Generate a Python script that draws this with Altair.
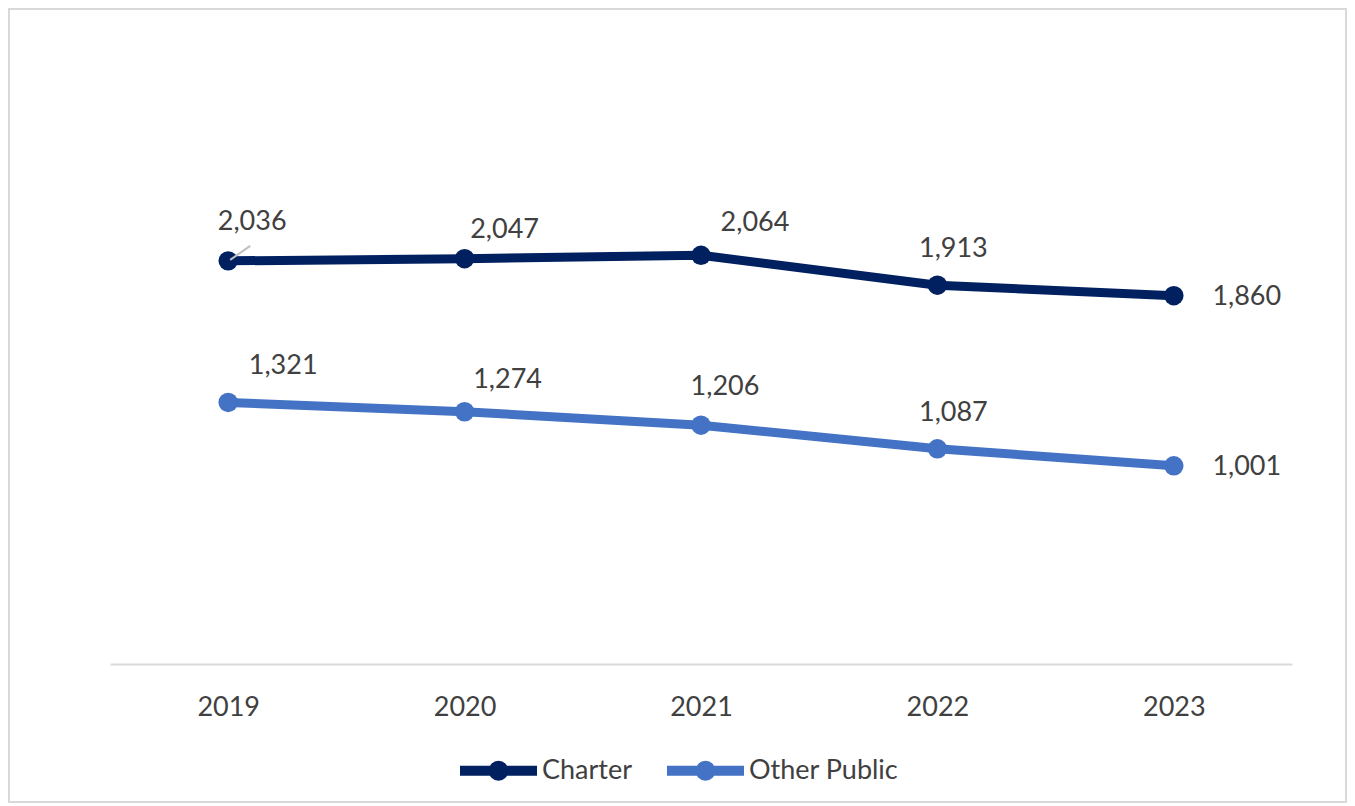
import altair as alt
import pandas as pd

years = ["2019", "2020", "2021", "2022", "2023"]
charter = [2036, 2047, 2064, 1913, 1860]
other_public = [1321, 1274, 1206, 1087, 1001]
series_names = ["Charter", "Other Public"]
series_colors = ["#002060", "#4472C4"]

rows = []
for y, v in zip(years, charter):
    rows.append({"year": y, "value": v, "series": "Charter"})
for y, v in zip(years, other_public):
    rows.append({"year": y, "value": v, "series": "Other Public"})
df = pd.DataFrame(rows)

W, H = 1182, 495
FONT = "Lato"
TXT = "#404040"

x_enc = alt.X("year:O", scale=alt.Scale(type="point", padding=0.5),
              axis=alt.Axis(title=None, labelAngle=0, labelFontSize=27, labelFont=FONT,
                            labelColor=TXT, domainColor="#d9d9d9", domainWidth=2,
                            ticks=False, grid=False, labelPadding=30))
y_enc = alt.Y("value:Q", scale=alt.Scale(domain=[0, 2500], nice=False), axis=None)

legend_path = "M-1,0L1,0M0.13,0A0.13,0.13 0 1,1 -0.13,0A0.13,0.13 0 1,1 0.13,0Z"

lines = alt.Chart(df).mark_line(
    strokeWidth=9, strokeCap="round", strokeJoin="round",
    point=alt.OverlayMarkDef(filled=True, size=380, opacity=1)
).encode(
    x=x_enc, y=y_enc,
    color=alt.Color("series:N",
                    scale=alt.Scale(domain=series_names, range=series_colors),
                    legend=alt.Legend(title=None, orient="none", direction="horizontal",
                                      legendX=345, legendY=558, padding=0,
                                      symbolType=legend_path, symbolSize=5929,
                                      symbolStrokeWidth=10, symbolOffset=0,
                                      labelFont=FONT, labelFontSize=27, labelColor=TXT,
                                      labelOffset=0, columnPadding=14,
                                      labelLimit=400))
)

# label offsets (dx, dy) per series and year
offsets = {
    "Charter": [(24, -39), (40, -29), (54, -32), (16, -36), (73, 1)],
    "Other Public": [(55, -36), (43, -32), (24, -38), (16, -36), (73, 1)],
}

label_layers = []
for s in series_names:
    for yr, (dx, dy) in zip(years, offsets[s]):
        sub = alt.Chart(df).transform_filter(
            (alt.datum.series == s) & (alt.datum.year == yr)
        ).mark_text(dx=dx, dy=dy, fontSize=27, font=FONT, color=TXT,
                    align="center", baseline="middle").encode(
            x=alt.X("year:O"), y=alt.Y("value:Q"),
            text=alt.Text("value:Q", format=",")
        )
        label_layers.append(sub)

leader = alt.Chart(df).transform_filter(
    (alt.datum.series == "Charter") & (alt.datum.year == "2019")
).mark_rule(color="#bfbfbf", strokeWidth=2, xOffset=2, yOffset=-1,
            x2Offset=22, y2Offset=-15).encode(
    x=alt.X("year:O"), x2=alt.X2("year"), y=alt.Y("value:Q"), y2=alt.Y2("value")
)

border = alt.Chart(df).mark_rect(fill=None, stroke="#d9d9d9", strokeWidth=2).encode(
    x=alt.value(-101), x2=alt.value(W + 54), y=alt.value(-160), y2=alt.value(H + 138)
)

chart = alt.layer(border, lines, *label_layers, leader).properties(
    width=W, height=H,
    background="white",
    autosize=alt.AutoSizeParams(type="none"),
    padding={"left": 102, "top": 161, "right": 55, "bottom": 139},
).configure_view(stroke=None, strokeWidth=0)

chart.save("out.html", embed_options={"renderer": "svg", "actions": False})
